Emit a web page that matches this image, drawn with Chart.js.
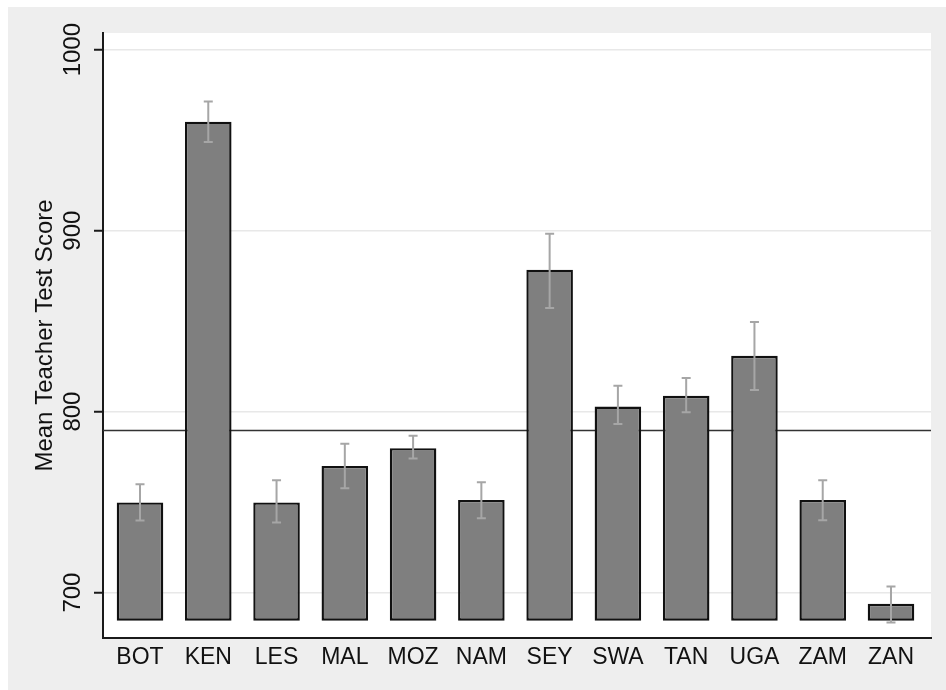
<!DOCTYPE html>
<html>
<head>
<meta charset="utf-8">
<script src="https://cdn.jsdelivr.net/npm/chart.js@4/dist/chart.umd.min.js"></script>
<style>
  html, body { margin: 0; padding: 0; background: #ffffff; }
  #wrap { width: 946px; height: 690px; }
</style>
</head>
<body>
<div id="wrap"><canvas id="chart" width="946" height="690"></canvas></div>
<script>
// Country codes along the x axis
const categories = ['BOT', 'KEN', 'LES', 'MAL', 'MOZ', 'NAM', 'SEY', 'SWA', 'TAN', 'UGA', 'ZAM', 'ZAN'];
// Mean teacher test score per country
const means = [749.8, 960.2, 749.8, 770.0, 779.8, 751.2, 878.4, 802.8, 808.7, 830.8, 751.2, 693.8];
// Confidence interval bounds
const ciHigh = [759.9, 971.4, 762.1, 782.2, 786.6, 761.0, 898.3, 814.3, 818.5, 849.5, 762.1, 703.3];
const ciLow = [739.8, 949.0, 738.7, 757.7, 774.1, 741.1, 857.2, 793.1, 799.7, 811.9, 740.0, 683.4];
// Overall mean (horizontal reference line)
const overallMean = 789.6;
// Value from which the bars rise
const barBase = 684.5;
// Value axis ticks and range
const yTicks = [700, 800, 900, 1000];
const yRange = [674.9, 1009.2];

const FONT = "'Liberation Sans', Arial, sans-serif";

const backdrop = {
  id: 'backdrop',
  beforeDraw(chart) {
    const { ctx, chartArea: a, width, height } = chart;
    ctx.save();
    ctx.fillStyle = '#ffffff';
    ctx.fillRect(0, 0, width, height);
    ctx.fillStyle = '#eeeeee';
    ctx.fillRect(8, 7, width - 8, height - 7);
    ctx.fillStyle = '#ffffff';
    ctx.fillRect(a.left, a.top, a.right - a.left, a.bottom - a.top);
    ctx.restore();
  }
};

const meanLine = {
  id: 'meanLine',
  beforeDatasetsDraw(chart) {
    const { ctx, chartArea: a } = chart;
    const y = chart.scales.y.getPixelForValue(overallMean);
    ctx.save();
    ctx.strokeStyle = '#333333';
    ctx.lineWidth = 1.5;
    ctx.beginPath();
    ctx.moveTo(a.left, y);
    ctx.lineTo(a.right, y);
    ctx.stroke();
    ctx.restore();
  }
};

const errorBars = {
  id: 'errorBars',
  afterDatasetsDraw(chart) {
    const { ctx } = chart;
    const ys = chart.scales.y;
    const meta = chart.getDatasetMeta(0);
    ctx.save();
    ctx.strokeStyle = '#a6a6a6';
    ctx.lineWidth = 2;
    meta.data.forEach((bar, i) => {
      const x = bar.x;
      const yHi = ys.getPixelForValue(ciHigh[i]);
      const yLo = ys.getPixelForValue(ciLow[i]);
      const cap = 4.5;
      ctx.beginPath();
      ctx.moveTo(x, yHi); ctx.lineTo(x, yLo);
      ctx.moveTo(x - cap, yHi); ctx.lineTo(x + cap, yHi);
      ctx.moveTo(x - cap, yLo); ctx.lineTo(x + cap, yLo);
      ctx.stroke();
    });
    ctx.restore();
  }
};

new Chart(document.getElementById('chart'), {
  type: 'bar',
  data: {
    datasets: [{
      data: means.map((v, i) => ({ x: i, y: v })),
      base: barBase,
      backgroundColor: '#7f7f7f',
      borderColor: '#111111',
      borderWidth: 2.4,
      borderSkipped: false,
      barPercentage: 0.682,
      categoryPercentage: 1
    }]
  },
  options: {
    responsive: false,
    animation: false,
    events: [],
    layout: { padding: { left: 31, top: 33, right: 15, bottom: 0 } },
    plugins: { legend: { display: false }, tooltip: { enabled: false } },
    scales: {
      x: {
        type: 'linear',
        offset: false,
        min: -0.542,
        max: 11.586,
        afterBuildTicks: s => { s.ticks = categories.map((c, i) => ({ value: i })); },
        afterFit: s => { s.height = 52; },
        grid: { display: false, drawTicks: false, offset: false },
        border: { display: true, color: '#1a1a1a', width: 2 },
        ticks: {
          autoSkip: false,
          maxRotation: 0,
          padding: 6,
          color: '#111111',
          font: { family: FONT, size: 23 },
          callback: v => categories[v] ?? ''
        }
      },
      y: {
        min: yRange[0],
        max: yRange[1],
        afterBuildTicks: s => { s.ticks = yTicks.map(v => ({ value: v })); },
        afterFit: s => { s.width = 72; },
        grid: {
          color: '#e8e8e8',
          lineWidth: 1.5,
          drawTicks: true,
          tickLength: 9,
          tickColor: '#1a1a1a',
          tickWidth: 2
        },
        border: { display: true, color: '#1a1a1a', width: 2 },
        ticks: {
          minRotation: 90,
          maxRotation: 90,
          crossAlign: 'center',
          padding: -6,
          color: '#111111',
          font: { family: FONT, size: 24 },
          callback: v => String(v)
        },
        title: {
          display: true,
          text: 'Mean Teacher Test Score',
          color: '#111111',
          padding: 0,
          font: { family: FONT, size: 24 }
        }
      }
    }
  },
  plugins: [backdrop, meanLine, errorBars]
});
</script>
</body>
</html>
